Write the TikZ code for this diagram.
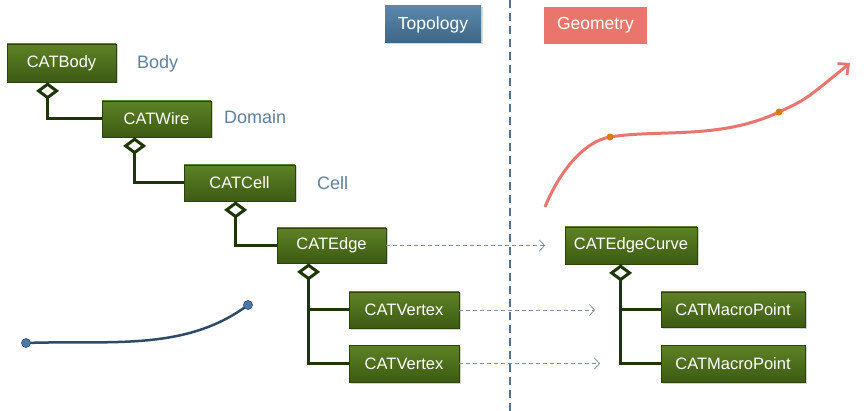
\documentclass[tikz,border=0pt]{standalone}
\usepackage{fontspec}
\setmainfont{Liberation Sans}
\usetikzlibrary{arrows.meta,shadows}
\definecolor{gtop}{HTML}{5E8226}
\definecolor{gbot}{HTML}{3C5A12}
\definecolor{gborder}{HTML}{2C420C}
\definecolor{conn}{HTML}{1E3608}
\definecolor{lbl}{HTML}{5F7F9F}
\definecolor{dasharr}{HTML}{7D91A8}
\definecolor{vline}{HTML}{54708C}
\definecolor{ttop}{HTML}{5A88AA}
\definecolor{tbot}{HTML}{3D6586}
\definecolor{geo}{HTML}{E9756D}
\definecolor{redcurve}{HTML}{E8766E}
\definecolor{orangedot}{HTML}{E07A0A}
\definecolor{bluecurve}{HTML}{2D4A66}
\definecolor{bluedot}{HTML}{4A7AAA}
\begin{document}
\begin{tikzpicture}[x=1pt,y=-1pt,
  cls/.style={draw=gborder, line width=0.8pt, top color=gtop, bottom color=gbot,
    text=white, font=\fontsize{16.5}{18}\selectfont, inner sep=0pt, anchor=center,
    drop shadow={shadow xshift=1.5pt, shadow yshift=-1.5pt, opacity=0.35}},
  lab/.style={text=lbl, font=\fontsize{18}{20}\selectfont, anchor=west, inner sep=0pt},
  comp/.style={draw=conn, line width=3pt,
    -{Diamond[open, fill=white, length=17pt, width=23pt, line width=3pt]}},
  plain/.style={draw=conn, line width=3pt},
  dasharrow/.style={draw=dasharr, line width=0.8pt, dash pattern=on 4pt off 3pt,
    -{Straight Barb[length=5pt, width=11pt, line width=0.8pt]}},
  hdr/.style={text=white, font=\fontsize{17.5}{20}\selectfont, inner sep=0pt, anchor=center}
]
\useasboundingbox (0,0) rectangle (864,411);

% divider
\coordinate (vtop) at (510,0);
\coordinate (vbot) at (510,411);
\draw[vline, line width=1.8pt, dash pattern=on 8pt off 5pt] (vtop) -- (vbot);

% headers
\node[hdr, top color=ttop, bottom color=tbot, minimum width=96pt, minimum height=37pt,
  drop shadow={shadow xshift=1.5pt, shadow yshift=-1.5pt, opacity=0.3}] (topo) at (433,24.5) {Topology};
\node[hdr, fill=geo, minimum width=103pt, minimum height=37pt] (geom) at (595.5,25.5) {Geometry};

% topology classes
\node[cls, minimum width=109pt, minimum height=38pt] (body) at (61.5,63) {CATBody};
\node[cls, minimum width=109pt, minimum height=36pt] (wire) at (156.5,119) {CATWire};
\node[cls, minimum width=111pt, minimum height=36pt] (cell) at (239.5,183) {CATCell};
\node[cls, minimum width=109pt, minimum height=35pt] (edge) at (331.5,245.5) {CATEdge};
\node[cls, minimum width=110pt, minimum height=36pt] (v1) at (404,310) {CATVertex};
\node[cls, minimum width=110pt, minimum height=37pt] (v2) at (404,363.5) {CATVertex};

% geometry classes
\node[cls, minimum width=132pt, minimum height=37pt] (ec) at (631,245.5) {CATEdgeCurve};
\node[cls, minimum width=144pt, minimum height=35pt] (m1) at (733,309.5) {CATMacroPoint};
\node[cls, minimum width=144pt, minimum height=37pt] (m2) at (733,363.5) {CATMacroPoint};

% labels
\node[lab] (lbody) at (137,64) {Body};
\node[lab] (ldom) at (224,117) {Domain};
\node[lab] (lcell) at (317,183) {Cell};

% diamond anchor points
\coordinate (dbody) at ([xshift=41pt]body.south west);
\coordinate (dwire) at ([xshift=33pt]wire.south west);
\coordinate (dcell) at ([xshift=52pt]cell.south west);
\coordinate (dedge) at ([xshift=32pt]edge.south west);
\coordinate (dec) at ([xshift=56pt]ec.south west);

% composition connectors
\draw[comp] (wire.west) -| (dbody);
\draw[comp] (cell.west) -| (dwire);
\draw[comp] (edge.west) -| (dcell);
\draw[comp] (v2.west) -| (dedge);
\draw[plain] (v1.west) -- (v1.west -| dedge);
\draw[comp] (m2.west) -| (dec);
\draw[plain] (m1.west) -- (m1.west -| dec);

% dashed mapping arrows
\coordinate (ae) at (545,245.5);
\coordinate (a1) at (595,310);
\coordinate (a2) at (600,363.5);
\draw[dasharrow] (edge.east) -- (ae);
\draw[dasharrow] (v1.east) -- (a1);
\draw[dasharrow] (v2.east) -- (a2);

% red geometric curve
\coordinate (r0) at (545,207);
\coordinate (r1) at (610,137);
\coordinate (r2) at (779,112);
\coordinate (r3) at (850,63);
\draw[redcurve, line width=3pt, -{Straight Barb[length=8pt, width=15pt, line width=2.8pt]}]
  (r0) .. controls (560,170) and (585,141) .. (r1)
       .. controls (660,129) and (720,140) .. (r2)
       .. controls (805,100) .. (r3);
\fill[orangedot] (r1) circle (3.5pt);
\fill[orangedot] (r2) circle (3.5pt);

% blue topological curve
\coordinate (b0) at (26,343);
\coordinate (b1) at (248,305);
\draw[bluecurve, line width=2.5pt] (b0) .. controls (110,340) and (185,352) .. (b1);
\filldraw[fill=bluedot, draw=bluecurve, line width=0.6pt] (b0) circle (4.5pt);
\filldraw[fill=bluedot, draw=bluecurve, line width=0.6pt] (b1) circle (4.5pt);
\end{tikzpicture}
\end{document}
